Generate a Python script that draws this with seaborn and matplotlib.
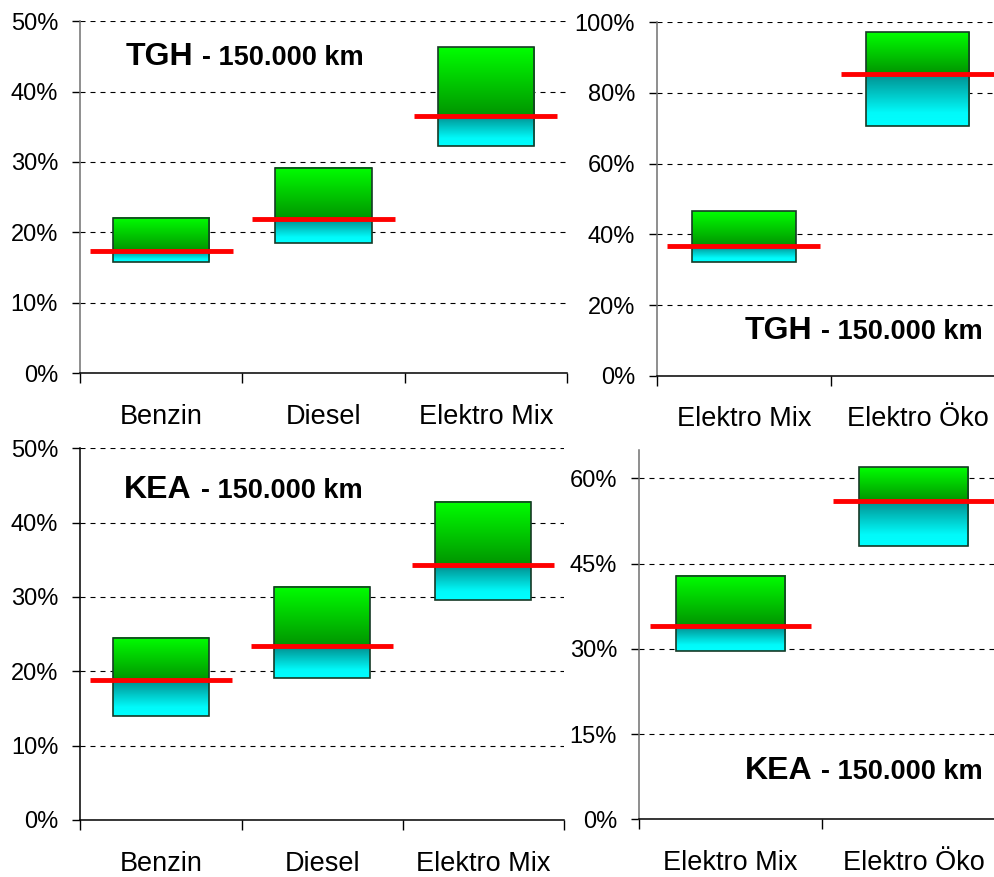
import numpy as np
import pandas as pd
import matplotlib
matplotlib.use("Agg")
import matplotlib.pyplot as plt
import seaborn as sns
from matplotlib.colors import LinearSegmentedColormap
from matplotlib.ticker import FuncFormatter

# ---------------- data ----------------
cats3 = ["Benzin", "Diesel", "Elektro Mix"]
cats2 = ["Elektro Mix", "Elektro Öko"]

tgh3_high = [22.1, 29.2, 46.4]
tgh3_low = [15.8, 18.5, 32.3]
tgh3_mid = [17.3, 21.9, 36.6]

tgh2_high = [46.5, 97.3]
tgh2_low = [32.3, 70.7]
tgh2_mid = [36.7, 85.5]

kea3_high = [24.5, 31.4, 42.8]
kea3_low = [14.0, 19.1, 29.6]
kea3_mid = [18.8, 23.4, 34.3]

kea2_high = [42.9, 62.0]
kea2_low = [29.7, 48.1]
kea2_mid = [34.0, 56.1]

yticks_50 = [0, 10, 20, 30, 40, 50]
yticks_100 = [0, 20, 40, 60, 80, 100]
yticks_65 = [0, 15, 30, 45, 60]

title_sub = "- 150.000 km"

# ---------------- style ----------------
W, H = 995, 877
sns.set_theme(style="white", rc={
    "text.color": "black", "xtick.color": "black", "ytick.color": "black",
    "axes.labelcolor": "black", "axes.edgecolor": "black",
})
plt.rcParams['font.family'] = ['Liberation Sans', 'DejaVu Sans']

fig = plt.figure(figsize=(W / 100, H / 100), dpi=100)

green_cmap = LinearSegmentedColormap.from_list('g', [(0, '#009400'), (1, '#00ff00')])
cyan_cmap = LinearSegmentedColormap.from_list('c', [(0, '#00ffff'), (0.25, '#00fafa'), (1, '#008c8c')])
grad = np.linspace(0, 1, 256).reshape(-1, 1)


def px_rect(l, r, t, b):
    return [l / W, 1 - b / H, (r - l) / W, (b - t) / H]


def panel(rect, cats, low, mid, high, ymax, yticks, spine_col):
    ax = fig.add_axes(rect)
    df = pd.DataFrame({"cat": cats, "high": high})
    sns.barplot(data=df, x="cat", y="high", ax=ax, width=0.595, color="#00c000",
                edgecolor="#163a26", linewidth=1.2)
    n = len(cats)
    for i, p in enumerate(ax.patches):
        p.set_y(low[i])
        p.set_height(high[i] - low[i])
        p.set_facecolor("none")
        p.set_zorder(4)
        x0 = p.get_x()
        x1 = x0 + p.get_width()
        ax.imshow(grad, cmap=green_cmap, origin="lower", aspect="auto",
                  extent=(x0, x1, mid[i], high[i]), zorder=3, interpolation="bilinear")
        ax.imshow(grad, cmap=cyan_cmap, origin="lower", aspect="auto",
                  extent=(x0, x1, low[i], mid[i]), zorder=3, interpolation="bilinear")
    xs = np.arange(n)
    ax.hlines(mid, xs - 0.44, xs + 0.44, colors="#ff0000", lw=3.5, zorder=5)

    ax.set_xlim(-0.5, n - 0.5)
    ax.set_ylim(0, ymax)
    ax.set_xlabel("")
    ax.set_ylabel("")

    ax.set_yticks(yticks)
    ax.yaxis.set_major_formatter(FuncFormatter(lambda v, _: f"{v:.0f}%"))
    ax.set_xticks(np.arange(-0.5, n, 1.0))
    ax.set_xticklabels([])
    ax.set_xticks(xs, minor=True)
    ax.set_xticklabels(cats, minor=True)
    ax.tick_params(axis="x", which="major", length=7.2, width=1, direction="out",
                   bottom=True, color="black")
    ax.tick_params(axis="x", which="minor", length=0, pad=22, labelsize=19.5)
    ax.tick_params(axis="y", which="major", length=5.8, width=1, direction="out",
                   left=True, pad=10, labelsize=17, color="black")

    ax.yaxis.grid(True, linestyle=(0, (4.5, 4.5)), color="black", lw=0.8)
    ax.xaxis.grid(False)
    ax.set_axisbelow(True)
    sns.despine(ax=ax)
    ax.spines["left"].set_color(spine_col)
    ax.spines["left"].set_linewidth(1.1)
    ax.spines["bottom"].set_color("black")
    ax.spines["bottom"].set_linewidth(1.1)
    return ax


panel(px_rect(80, 567, 21.3, 373), cats3, tgh3_low, tgh3_mid, tgh3_high, 50, yticks_50, "#707070")
panel(px_rect(657, 1004.4, 22.3, 375.7), cats2, tgh2_low, tgh2_mid, tgh2_high, 100, yticks_100, "#707070")
panel(px_rect(80.3, 564, 448.3, 820), cats3, kea3_low, kea3_mid, kea3_high, 50, yticks_50, "black")
panel(px_rect(639, 1005.6, 450, 819.3), cats2, kea2_low, kea2_mid, kea2_high, 65, yticks_65, "#707070")

fig.canvas.draw()
GAP = 9


def title_left(key, x_px, base_px):
    t1 = fig.text(x_px / W, 1 - base_px / H, key, fontsize=23, fontweight="bold",
                  va="baseline", ha="left")
    fig.canvas.draw()
    bb = t1.get_window_extent()
    fig.text((bb.x1 + GAP) / W, 1 - base_px / H, title_sub, fontsize=19.5,
             fontweight="bold", va="baseline", ha="left")


def title_right(key, xr_px, base_px):
    t2 = fig.text(xr_px / W, 1 - base_px / H, title_sub, fontsize=19.5, fontweight="bold",
                  va="baseline", ha="right")
    fig.canvas.draw()
    bb = t2.get_window_extent()
    fig.text((bb.x0 - GAP) / W, 1 - base_px / H, key, fontsize=23,
             fontweight="bold", va="baseline", ha="right")


title_left("TGH", 125.8, 65)
title_right("TGH", 983, 339.3)
title_left("KEA", 124, 498.3)
title_right("KEA", 983, 779.3)

fig.savefig("out.png", dpi=100)
